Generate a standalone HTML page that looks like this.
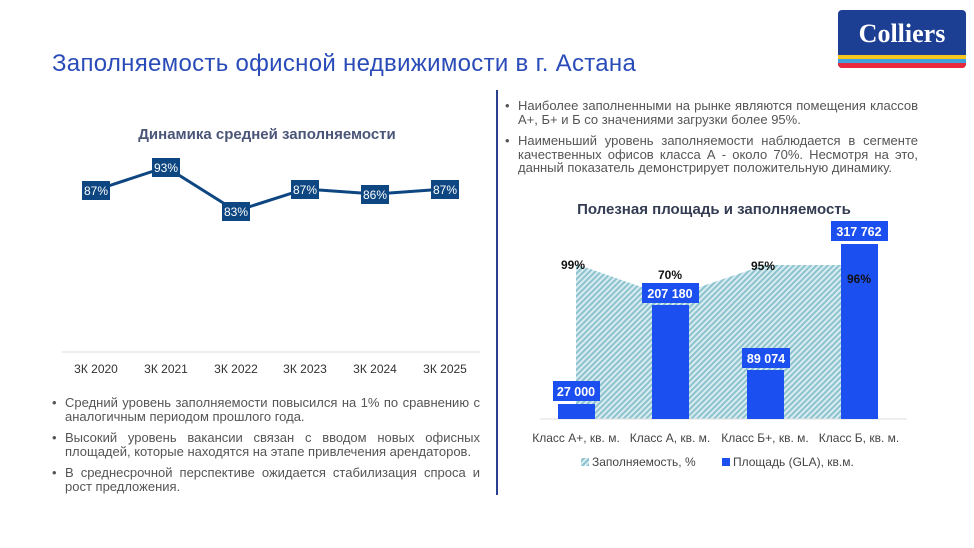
<!DOCTYPE html>
<html><head><meta charset="utf-8"><style>
body{margin:0;width:974px;height:548px;background:#fff;position:relative;overflow:hidden;font-family:"Liberation Sans",sans-serif}
.a{position:absolute}
.bul{font-size:13px;color:#555;line-height:13.5px;text-align:justify}
.bul div{position:relative;padding-left:13px;margin-bottom:8px}
.bul div:before{content:"•";position:absolute;left:0;top:0}
</style></head><body>
<div class="a" style="left:838px;top:10px;width:128px;height:58px;border-radius:4px;overflow:hidden;background:#1c3f94">
<div class="a" style="left:0;top:9px;width:128px;text-align:center;color:#fff;font-family:'Liberation Serif',serif;font-size:26px;font-weight:bold">Colliers</div>
<div class="a" style="left:0;top:45px;width:128px;height:4px;background:#f6c61e"></div>
<div class="a" style="left:0;top:49px;width:128px;height:4px;background:#3fa1dc"></div>
<div class="a" style="left:0;top:53px;width:128px;height:5px;background:#e8283c"></div>
</div>
<div class="a" style="left:52px;top:50px;font-size:24px;letter-spacing:0.3px;color:#2a4cb8">Заполняемость офисной недвижимости в г. Астана</div>
<div class="a" style="left:496px;top:90px;width:2px;height:405px;background:#2b3f8f"></div>
<svg class="a" style="left:0;top:0" width="974" height="548">
<text x="267" y="139" text-anchor="middle" font-size="15" font-weight="bold" fill="#4a5578" font-family="Liberation Sans">Динамика средней заполняемости</text>
<polyline points="96,190 166,167 236,211 305,189 375,194 445,189" fill="none" stroke="#0d4680" stroke-width="3"/>
<g fill="#0d4680"><rect x="82" y="181" width="28" height="19"/><rect x="152" y="158" width="28" height="19"/><rect x="222" y="202" width="28" height="19"/><rect x="291" y="180" width="28" height="19"/><rect x="361" y="185" width="28" height="19"/><rect x="431" y="180" width="28" height="19"/></g>
<g fill="#fff" font-size="12" text-anchor="middle" font-family="Liberation Sans"><text x="96" y="195">87%</text><text x="166" y="172">93%</text><text x="236" y="216">83%</text><text x="305" y="194">87%</text><text x="375" y="199">86%</text><text x="445" y="194">87%</text></g>
<line x1="62" y1="352" x2="480" y2="352" stroke="#ddd"/>
<g fill="#333" font-size="12" text-anchor="middle" font-family="Liberation Sans"><text x="96" y="373">3К 2020</text><text x="166" y="373">3К 2021</text><text x="236" y="373">3К 2022</text><text x="305" y="373">3К 2023</text><text x="375" y="373">3К 2024</text><text x="445" y="373">3К 2025</text></g>
<defs><pattern id="h" width="4" height="4" patternUnits="userSpaceOnUse" patternTransform="rotate(45)"><rect width="4" height="4" fill="#d9ecf0"/><rect width="2" height="4" fill="#8cc3cf"/></pattern></defs>
<text x="714" y="214" text-anchor="middle" font-size="15" font-weight="bold" fill="#333c52" font-family="Liberation Sans">Полезная площадь и заполняемость</text>
<polygon points="576,264 670,297 765,265 859,265 859,419 576,419" fill="url(#h)"/>
<line x1="540" y1="419" x2="907" y2="419" stroke="#ddd"/>
<g fill="#1c4ff0"><rect x="558" y="404" width="37" height="15"/><rect x="652" y="305" width="37" height="114"/><rect x="747" y="370" width="37" height="49"/><rect x="841" y="244" width="37" height="175"/>
<rect x="553" y="381" width="47" height="20"/><rect x="642" y="283" width="57" height="20"/><rect x="742" y="348" width="48" height="20"/><rect x="831" y="221" width="57" height="20"/></g>
<g fill="#fff" font-size="12.5" font-weight="bold" text-anchor="middle" font-family="Liberation Sans"><text x="576" y="396">27 000</text><text x="670" y="298">207 180</text><text x="766" y="363">89 074</text><text x="859" y="236">317 762</text></g>
<g fill="#111" font-size="12" font-weight="bold" text-anchor="middle" font-family="Liberation Sans"><text x="573" y="269">99%</text><text x="670" y="279">70%</text><text x="763" y="270">95%</text><text x="859" y="283">96%</text></g>
<g fill="#444" font-size="12" text-anchor="middle" font-family="Liberation Sans"><text x="576" y="442">Класс А+, кв. м.</text><text x="670" y="442">Класс А, кв. м.</text><text x="765" y="442">Класс Б+, кв. м.</text><text x="859" y="442">Класс Б, кв. м.</text></g>
<rect x="581" y="458" width="8" height="8" fill="url(#h)"/><text x="592" y="466" font-size="12" fill="#444" font-family="Liberation Sans">Заполняемость, %</text>
<rect x="722" y="458" width="8" height="8" fill="#1c4ff0"/><text x="733" y="466" font-size="12" fill="#444" font-family="Liberation Sans">Площадь (GLA), кв.м.</text>
</svg>
<div class="a bul" style="left:505px;top:99px;width:413px"><div>Наиболее заполненными на рынке являются помещения классов А+, Б+ и Б со значениями загрузки более 95%.</div><div>Наименьший уровень заполняемости наблюдается в сегменте качественных офисов класса А - около 70%. Несмотря на это, данный показатель демонстрирует положительную динамику.</div></div>
<div class="a bul" style="left:52px;top:396px;width:428px"><div>Средний уровень заполняемости повысился на 1% по сравнению с аналогичным периодом прошлого года.</div><div>Высокий уровень вакансии связан с вводом новых офисных площадей, которые находятся на этапе привлечения арендаторов.</div><div>В среднесрочной перспективе ожидается стабилизация спроса и рост предложения.</div></div>
</body></html>
